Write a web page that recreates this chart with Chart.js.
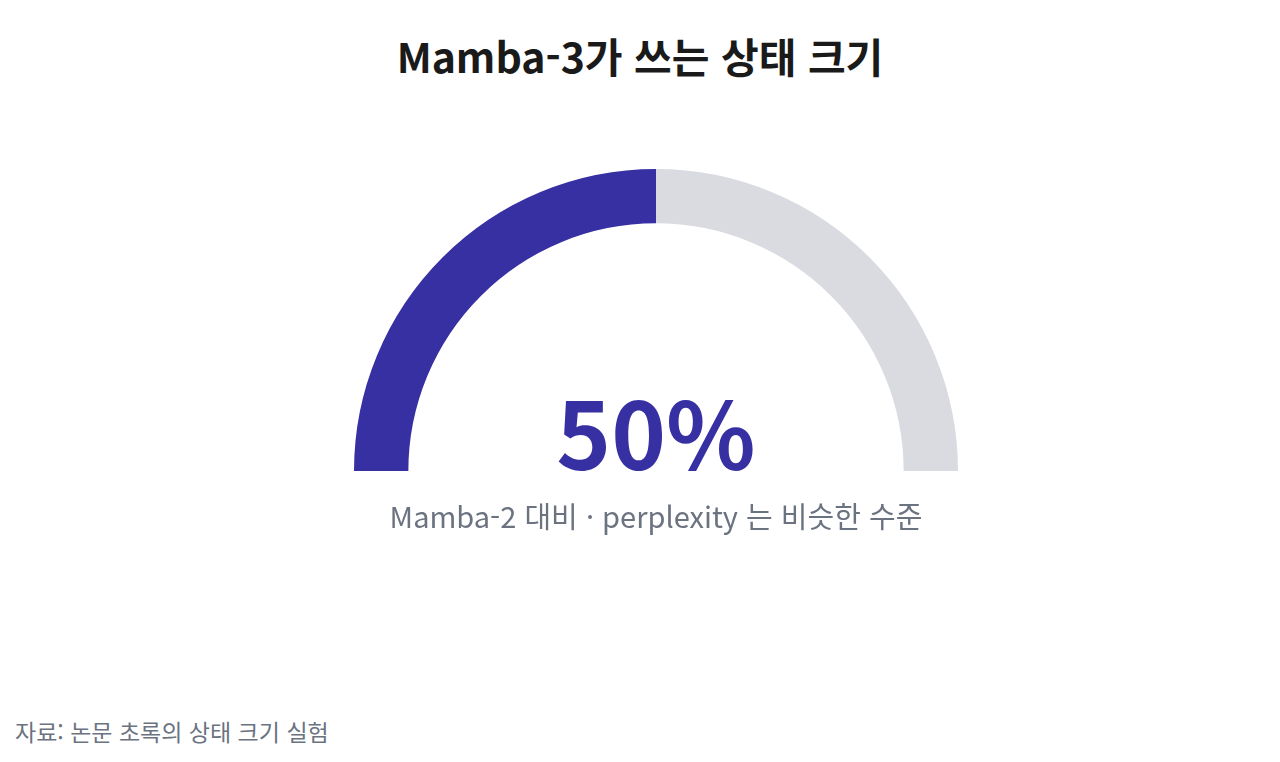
<!DOCTYPE html>
<html lang="ko">
<head>
<meta charset="utf-8">
<script src="https://cdn.jsdelivr.net/npm/chart.js@4.4.1/dist/chart.umd.min.js"></script>
<style>
  html, body { margin: 0; padding: 0; background: #ffffff; }
  body { width: 1280px; height: 762px; position: relative; overflow: hidden;
         font-family: "Noto Sans CJK KR", "Noto Sans", sans-serif; }
  #title { position: absolute; left: 0; width: 1280px; top: 30px; text-align: center;
           font-size: 41px; font-weight: 700; color: #1a1a1a; line-height: 50px; }
  #gauge { position: absolute; left: 354px; top: 169px; width: 604px; height: 302px; }
  #value { position: absolute; left: 0; width: 1312px; top: 380px; text-align: center;
           font-size: 93px; font-weight: 700; color: #3730a3; line-height: 100px; }
  #note { position: absolute; left: 0; width: 1312px; top: 497px; text-align: center;
          font-size: 29px; font-weight: 400; color: #6b7280; line-height: 36px; }
  #source { position: absolute; left: 15px; top: 716px; font-size: 23px; color: #6b7280; line-height: 30px; }
</style>
</head>
<body>
<div id="title">Mamba-3가 쓰는 상태 크기</div>
<div id="gauge"><canvas id="c"></canvas></div>
<div id="value"></div>
<div id="note">Mamba-2 대비 · perplexity 는 비슷한 수준</div>
<div id="source">자료: 논문 초록의 상태 크기 실험</div>
<script>
const categories = ['Mamba-3 상태 크기', '나머지'];
const stateSizePercent = [50, 50];
const sliceColors = ['#3730a3', '#d9dbe0'];

document.getElementById('value').textContent = stateSizePercent[0] + '%';

new Chart(document.getElementById('c'), {
  type: 'doughnut',
  data: {
    labels: categories,
    datasets: [{
      data: stateSizePercent,
      backgroundColor: sliceColors,
      borderWidth: 0,
      hoverOffset: 0
    }]
  },
  options: {
    responsive: true,
    maintainAspectRatio: false,
    animation: false,
    rotation: -90,
    circumference: 180,
    cutout: '82%',
    layout: { padding: 0 },
    plugins: { legend: { display: false }, tooltip: { enabled: false }, title: { display: false } }
  }
});
</script>
</body>
</html>
